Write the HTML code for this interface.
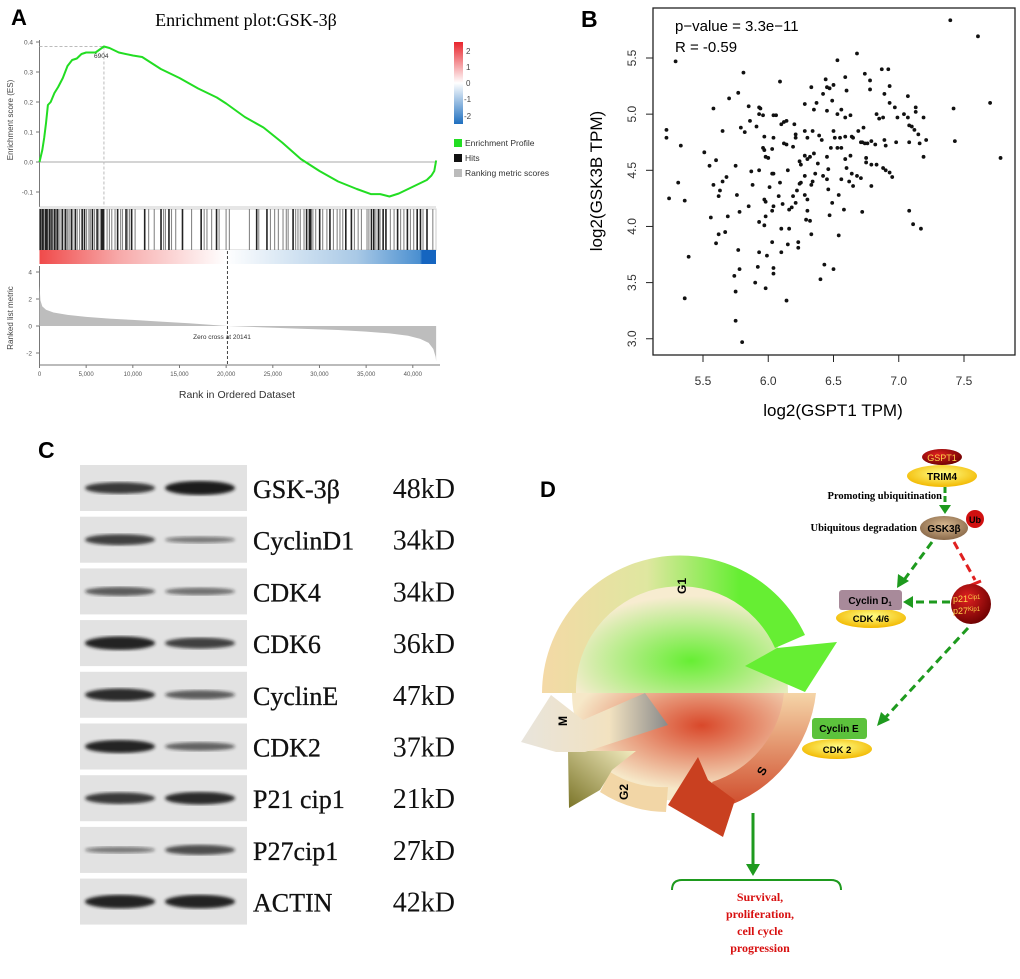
<!DOCTYPE html>
<html><head><meta charset="utf-8">
<style>
html,body{margin:0;padding:0;background:#fff;}
svg{display:block;}
</style></head>
<body>
<svg width="1020" height="979" viewBox="0 0 1020 979" xmlns="http://www.w3.org/2000/svg" font-family="Liberation Sans, sans-serif">
<defs>
  <linearGradient id="rankbar" x1="0" x2="1" y1="0" y2="0">
    <stop offset="0" stop-color="#f04a4a"/><stop offset="0.2" stop-color="#f7a9a9"/><stop offset="0.47" stop-color="#ffffff"/><stop offset="0.8" stop-color="#a9c9e6"/><stop offset="0.96" stop-color="#4a8fd0"/><stop offset="0.965" stop-color="#1565c0"/><stop offset="1" stop-color="#1565c0"/>
  </linearGradient>
  <linearGradient id="legbar" x1="0" x2="0" y1="0" y2="1">
    <stop offset="0" stop-color="#e8242c"/><stop offset="0.5" stop-color="#ffffff"/><stop offset="1" stop-color="#1f6fbf"/>
  </linearGradient>
  <filter id="blur"><feGaussianBlur stdDeviation="1.6"/></filter>
  <radialGradient id="g1in" cx="0.55" cy="0.7" r="0.6"><stop offset="0" stop-color="#66ee33"/><stop offset="1" stop-color="#f7ecd0"/></radialGradient>
  <linearGradient id="g1arc" x1="0" x2="1" y1="0" y2="0"><stop offset="0" stop-color="#f4d9a6"/><stop offset="0.4" stop-color="#dfe7a0"/><stop offset="0.75" stop-color="#66ee33"/><stop offset="1" stop-color="#66ee33"/></linearGradient>
  <radialGradient id="sin" cx="0.6" cy="0.3" r="0.6"><stop offset="0" stop-color="#d9482a"/><stop offset="1" stop-color="#f6e8c8"/></radialGradient>
  <linearGradient id="sarc" x1="0" x2="0" y1="0" y2="1"><stop offset="0" stop-color="#f5d5a8"/><stop offset="1" stop-color="#cf4a2a"/></linearGradient>
  <linearGradient id="g2g" x1="0" x2="1" y1="1" y2="0"><stop offset="0" stop-color="#7a7428"/><stop offset="1" stop-color="#f3ecc0"/></linearGradient>
  <linearGradient id="mg" x1="0" x2="1" y1="0" y2="0"><stop offset="0" stop-color="#e8e4dc"/><stop offset="0.6" stop-color="#f2e2c0"/><stop offset="1" stop-color="#8a8a8a"/></linearGradient>
  <radialGradient id="redball" cx="0.4" cy="0.35" r="0.7"><stop offset="0" stop-color="#e02020"/><stop offset="1" stop-color="#6a0000"/></radialGradient>
  <radialGradient id="yell" cx="0.5" cy="0.4" r="0.6"><stop offset="0" stop-color="#ffff88"/><stop offset="1" stop-color="#f2b800"/></radialGradient>
  <radialGradient id="tanball" cx="0.5" cy="0.4" r="0.6"><stop offset="0" stop-color="#d8b890"/><stop offset="1" stop-color="#8a6a4a"/></radialGradient>
</defs>

<!-- ================= PANEL A ================= -->
<g id="panelA">
  <text x="11" y="25" font-size="22" font-weight="bold">A</text>
  <text x="246" y="26" font-size="18" text-anchor="middle" font-family="Liberation Serif, serif">Enrichment plot:GSK-3β</text>
  <g id="aAxes"></g>
  <g id="aHits"></g>
  <rect x="39.5" y="250" width="396.5" height="14" fill="url(#rankbar)"/>
  <g id="aMetric"></g>
  <g id="aCurve"></g>
  <text x="13" y="120" font-size="8" fill="#444" text-anchor="middle" transform="rotate(-90 13 120)">Enrichment score (ES)</text>
  <text x="13" y="318" font-size="8" fill="#444" text-anchor="middle" transform="rotate(-90 13 318)">Ranked list metric</text>
  <text x="237" y="398" font-size="10.5" fill="#333" text-anchor="middle">Rank in Ordered Dataset</text>
  <text x="222" y="339" font-size="6.5" fill="#333" text-anchor="middle">Zero cross at 20141</text>
  <text x="94" y="58" font-size="6.5" fill="#333">6904</text>
  <rect x="454" y="42" width="9" height="82" fill="url(#legbar)"/>
  <g font-size="8" fill="#444">
    <text x="466" y="54">2</text><text x="466" y="70">1</text><text x="466" y="86">0</text><text x="464" y="102">-1</text><text x="464" y="119">-2</text>
  </g>
  <rect x="454" y="139" width="8" height="8" fill="#22dd22"/>
  <text x="465" y="146" font-size="8.5" fill="#333">Enrichment Profile</text>
  <rect x="454" y="154" width="8" height="8" fill="#111"/>
  <text x="465" y="161" font-size="8.5" fill="#333">Hits</text>
  <rect x="454" y="169" width="8" height="8" fill="#bbb"/>
  <text x="465" y="176" font-size="8.5" fill="#333">Ranking metric scores</text>
</g>

<!-- ================= PANEL B ================= -->
<g id="panelB">
  <text x="581" y="27" font-size="23" font-weight="bold">B</text>
  <rect x="653" y="8" width="362" height="347" fill="none" stroke="#222" stroke-width="1.3"/>
  <text x="675" y="31" font-size="15">p−value = 3.3e−11</text>
  <text x="675" y="52" font-size="15">R =  -0.59</text>
  <g id="bAxes"></g>
  <g id="bPoints"></g>
  <text x="602" y="181" font-size="17" text-anchor="middle" transform="rotate(-90 602 181)">log2(GSK3B TPM)</text>
  <text x="833" y="416" font-size="17" text-anchor="middle">log2(GSPT1 TPM)</text>
</g>

<!-- ================= PANEL C ================= -->
<g id="panelC">
  <text x="38" y="458" font-size="23" font-weight="bold">C</text>
  <g id="blots"></g>
</g>

<!-- ================= PANEL D ================= -->
<g id="panelD">
  <text x="540" y="497" font-size="22" font-weight="bold">D</text>
  <g>
    <path d="M572 693 A108 108 0 0 1 788 693 Z" fill="url(#g1in)"/>
    <path d="M572 693 A108 108 0 0 0 788 693 Z" fill="url(#sin)"/>
    <path d="M542 693 A138 138 0 0 1 805 635 L775 648 A104 104 0 0 0 576 693 Z" fill="url(#g1arc)"/>
    <polygon points="837,642 805,692 745,666 777,648" fill="#66ee33"/>
    <text x="682" y="590" font-size="12" font-weight="bold" transform="rotate(-90 682 586)" text-anchor="middle">G1</text>
    <path d="M816 693 A136 136 0 0 1 722 808 L712 782 A104 104 0 0 0 784 693 Z" fill="url(#sarc)"/>
    <polygon points="723,837 668,805 698,757 708,780 735,800" fill="#c94020"/>
    <text x="762" y="775" font-size="12" font-weight="bold" transform="rotate(-60 762 771)" text-anchor="middle">S</text>
    <path d="M666 812 A125 125 0 0 1 600 792 L610 772 A100 100 0 0 0 668 787 Z" fill="#f2d6a6"/>
    <polygon points="569,808 568,751 636,751 612,770 605,782 600,790" fill="url(#g2g)"/>
    <text x="624" y="796" font-size="12" font-weight="bold" transform="rotate(-90 624 792)" text-anchor="middle">G2</text>
    <polygon points="521,742 551,695 583,720 645,693 668,725 585,752 556,752" fill="url(#mg)"/>
    <text x="563" y="725" font-size="12" font-weight="bold" transform="rotate(-90 563 721)" text-anchor="middle">M</text>
  </g>
  <ellipse cx="942" cy="457" rx="20" ry="8" fill="url(#redball)"/>
  <text x="942" y="461" font-size="9" fill="#ffd24a" text-anchor="middle">GSPT1</text>
  <ellipse cx="942" cy="476" rx="35" ry="11" fill="url(#yell)"/>
  <text x="942" y="480" font-size="10" font-weight="bold" text-anchor="middle">TRIM4</text>
  <text x="942" y="499" font-size="10.5" font-weight="bold" text-anchor="end" font-family="Liberation Serif, serif">Promoting ubiquitination</text>
  <line x1="945" y1="487" x2="945" y2="505" stroke="#1e9a1e" stroke-width="3" stroke-dasharray="6 3"/>
  <polygon points="939,505 951,505 945,514" fill="#1e9a1e"/>
  <ellipse cx="944" cy="528" rx="24" ry="12" fill="url(#tanball)"/>
  <text x="944" y="532" font-size="10" font-weight="bold" text-anchor="middle">GSK3β</text>
  <circle cx="975" cy="519" r="9" fill="#d01010"/>
  <text x="975" y="523" font-size="9" font-weight="bold" text-anchor="middle">Ub</text>
  <text x="917" y="531" font-size="10.5" font-weight="bold" text-anchor="end" font-family="Liberation Serif, serif">Ubiquitous degradation</text>
  <line x1="932" y1="542" x2="904" y2="580" stroke="#1e9a1e" stroke-width="3" stroke-dasharray="8 5"/>
  <polygon points="897,588 898,574 909,581" fill="#1e9a1e"/>
  <line x1="954" y1="542" x2="975" y2="580" stroke="#e02020" stroke-width="3" stroke-dasharray="8 5"/>
  <line x1="969" y1="586" x2="981" y2="581" stroke="#e02020" stroke-width="3"/>
  <circle cx="971" cy="604" r="20" fill="url(#redball)"/>
  <text x="953" y="602" font-size="9" fill="#ffd24a">p21<tspan font-size="6" dy="-3">Cip1</tspan></text>
  <text x="953" y="614" font-size="9" fill="#ffd24a">p27<tspan font-size="6" dy="-3">Kip1</tspan></text>
  <line x1="950" y1="602" x2="912" y2="602" stroke="#1e9a1e" stroke-width="3" stroke-dasharray="8 5"/>
  <polygon points="903,602 913,596 913,608" fill="#1e9a1e"/>
  <ellipse cx="871" cy="618" rx="35" ry="10" fill="url(#yell)"/>
  <rect x="839" y="590" width="63" height="20" rx="3" fill="#a88a9a"/>
  <text x="870" y="604" font-size="10" font-weight="bold" text-anchor="middle">Cyclin D<tspan font-size="6" dy="2">1</tspan></text>
  <text x="871" y="622" font-size="9.5" font-weight="bold" text-anchor="middle">CDK 4/6</text>
  <line x1="968" y1="628" x2="885" y2="718" stroke="#1e9a1e" stroke-width="3" stroke-dasharray="8 5"/>
  <polygon points="877,726 881,712 890,720" fill="#1e9a1e"/>
  <ellipse cx="837" cy="749" rx="35" ry="10" fill="url(#yell)"/>
  <rect x="812" y="718" width="55" height="21" rx="3" fill="#5cc23c"/>
  <text x="839" y="732" font-size="10" font-weight="bold" text-anchor="middle">Cyclin E</text>
  <text x="837" y="753" font-size="9.5" font-weight="bold" text-anchor="middle">CDK 2</text>
  <line x1="753" y1="813" x2="753" y2="866" stroke="#1e9a1e" stroke-width="3"/>
  <polygon points="746,864 760,864 753,876" fill="#1e9a1e"/>
  <path d="M672 890 Q672 880 682 880 L831 880 Q841 880 841 890" fill="none" stroke="#1e9a1e" stroke-width="2"/>
  <g font-family="Liberation Serif, serif" font-weight="bold" font-size="12" fill="#d81010" text-anchor="middle">
    <text x="760" y="901">Survival,</text>
    <text x="760" y="918">proliferation,</text>
    <text x="760" y="935">cell cycle</text>
    <text x="760" y="952">progression</text>
  </g>
</g>

<script>
// ---------- Panel A data ----------
const esRanks = [0,150,300,500,700,900,1200,1600,2000,2500,3000,3500,4000,4500,5000,6000,6904,7500,8500,10000,11000,12000,13000,15000,17000,19000,20000,22000,24000,26000,28000,30000,32000,34000,35500,36500,37500,38500,39500,40500,41500,42000,42300,42500];
const esValues = [0,0.02,0.04,0.08,0.13,0.19,0.2,0.23,0.25,0.28,0.32,0.34,0.345,0.36,0.365,0.365,0.385,0.38,0.365,0.355,0.35,0.33,0.31,0.28,0.245,0.215,0.195,0.15,0.115,0.065,0.01,-0.03,-0.065,-0.09,-0.107,-0.107,-0.115,-0.105,-0.09,-0.075,-0.06,-0.045,-0.03,0.005];
const metricRanks = [0,100,300,700,1500,3000,5000,7500,10000,13000,16000,20141,24000,28000,32000,35000,37500,39500,40800,41700,42200,42450,42500];
const metricValues = [3.0,1.9,1.45,1.2,1.0,0.82,0.68,0.55,0.45,0.32,0.2,0,-0.1,-0.2,-0.3,-0.42,-0.55,-0.72,-0.95,-1.25,-1.7,-2.3,-2.6];
const hitRanks = [60,180,260,330,420,520,650,800,950,1080,1230,1330,1450,1600,1780,1900,2050,2200,2420,2650,2780,3020,3180,3400,3580,3820,4050,4300,4550,4800,5050,5300,5450,5650,5900,6150,6350,6600,6750,6850,7250,7500,7750,8100,8350,8700,8900,9250,9450,9650,9850,10250,11250,11700,12300,13000,13300,13500,13850,14150,14600,15300,16300,17300,17650,17950,18450,18950,19250,20000,20350,22500,23250,23500,24350,24750,25200,25600,26100,26450,26650,27150,27450,27700,27950,28350,28600,28900,29050,29300,29600,30000,30350,30800,31100,31500,31900,32200,32500,32800,33400,33750,34150,34500,35100,35300,35550,35800,36050,36300,36500,36800,37100,37600,38000,38350,38700,39050,39400,39750,40100,40450,40800,41100,41500,42150];
const hitShades = [1,1,0,1,1,0,1,1,0,1,0,1,0,1,0,1,0,0,1,0,1,0,0,1,0,1,0,0,1,1,0,0,0,1,0,1,0,1,1,1,0,0,0,0,1,0,0,1,0,0,1,0,1,0,0,1,0,0,1,0,0,1,0,1,0,0,0,1,0,0,0,0,1,0,1,0,0,0,0,0,0,1,0,0,0,0,1,1,1,0,0,1,0,0,1,0,0,0,0,1,1,0,0,0,0,0,1,1,0,1,0,1,1,0,0,1,0,0,1,0,0,1,1,0,1,0,1];
const esTicks = [0.4,0.3,0.2,0.1,0.0,-0.1];
const esTickLabels = ["0.4","0.3","0.2","0.1","0.0","-0.1"];
const metricTicks = [4,2,0,-2];
const rankTicks = [0,5000,10000,15000,20000,25000,30000,35000,40000];
const rankTickLabels = ["0","5,000","10,000","15,000","20,000","25,000","30,000","35,000","40,000"];
const peakRank = 6904, peakES = 0.385, zeroCross = 20141;

// ---------- Panel B data ----------
const gsptValues = [7.395,7.607,5.29,6.68,6.53,5.81,6.09,6.74,6.87,6.92,6.78,6.44,6.45,6.47,6.33,6.50,6.59,6.60,6.78,6.93,6.89,5.77,5.70,7.07,6.42,7.70,6.28,6.37,6.49,5.85,5.93,5.94,5.58,7.42,7.13,7.13,6.35,6.45,6.56,6.53,6.93,6.97,5.93,5.96,6.04,6.06,6.59,6.63,6.83,6.85,6.88,6.99,7.04,7.07,7.19,5.22,5.22,5.33,5.65,5.79,5.82,5.86,5.91,5.97,6.10,6.12,6.14,6.20,6.21,6.21,6.28,6.34,6.39,6.41,6.30,6.50,6.51,6.55,6.59,6.64,6.65,6.69,6.73,6.71,6.72,6.74,6.76,6.79,6.82,6.89,6.90,6.98,7.08,7.08,7.10,7.12,7.15,7.16,7.21,7.43,7.78,7.19,5.51,5.55,5.60,5.75,5.87,5.93,5.96,5.97,5.98,6.00,6.03,6.04,6.12,6.14,6.19,6.24,6.25,6.28,6.30,6.32,6.35,6.38,6.45,6.48,6.53,6.56,6.59,6.60,6.63,6.75,6.75,6.79,6.83,6.88,6.90,6.93,6.95,5.76,5.58,5.63,5.62,5.65,5.68,5.31,5.24,5.36,5.88,5.97,5.98,6.01,6.03,6.04,6.09,6.08,6.04,6.11,6.15,6.16,6.18,6.19,6.21,6.22,6.24,6.25,6.28,6.28,6.30,6.30,6.33,6.34,6.36,6.42,6.45,6.46,6.46,6.49,6.54,6.56,6.58,6.62,6.64,6.65,6.68,6.71,6.72,6.79,7.08,7.11,7.17,5.56,5.69,5.67,5.60,5.62,5.78,5.85,5.93,5.97,5.98,6.03,6.10,6.16,6.03,6.10,6.15,6.23,6.23,6.29,6.32,6.33,6.47,6.54,5.39,5.77,5.93,5.99,5.78,5.74,5.92,6.04,6.04,5.90,5.98,5.75,5.36,6.14,6.40,6.43,6.50,5.75,5.80];
const gsk3bValues = [5.836,5.693,5.47,5.54,5.48,5.37,5.29,5.36,5.40,5.40,5.30,5.31,5.24,5.23,5.24,5.26,5.33,5.21,5.22,5.25,5.18,5.19,5.14,5.16,5.18,5.10,5.09,5.10,5.12,5.07,5.06,5.05,5.05,5.05,5.06,5.02,5.04,5.03,5.04,5.00,5.10,5.06,5.00,4.99,4.99,4.99,4.97,4.99,5.00,4.96,4.97,4.97,5.00,4.97,4.97,4.86,4.79,4.72,4.85,4.88,4.84,4.94,4.89,4.80,4.91,4.93,4.94,4.91,4.82,4.79,4.85,4.85,4.81,4.77,4.79,4.85,4.79,4.79,4.80,4.80,4.79,4.85,4.88,4.75,4.75,4.74,4.74,4.76,4.73,4.77,4.72,4.75,4.75,4.90,4.89,4.86,4.82,4.74,4.77,4.76,4.61,4.62,4.66,4.54,4.59,4.54,4.49,4.50,4.70,4.68,4.62,4.61,4.69,4.79,4.74,4.73,4.71,4.58,4.55,4.63,4.60,4.62,4.65,4.56,4.62,4.70,4.70,4.70,4.60,4.52,4.63,4.61,4.57,4.55,4.55,4.52,4.50,4.48,4.44,4.28,4.37,4.32,4.27,4.40,4.44,4.39,4.25,4.23,4.37,4.24,4.22,4.35,4.47,4.47,4.39,4.27,4.18,4.20,4.50,4.15,4.17,4.27,4.21,4.32,4.38,4.39,4.45,4.28,4.24,4.14,4.37,4.40,4.47,4.45,4.42,4.51,4.33,4.21,4.28,4.42,4.15,4.40,4.47,4.36,4.45,4.43,4.13,4.36,4.14,4.02,3.98,4.08,4.09,3.95,3.85,3.93,4.13,4.18,4.04,4.01,4.09,4.14,3.98,3.98,3.86,3.77,3.84,3.86,3.81,4.06,4.05,3.93,4.10,3.92,3.73,3.79,3.77,3.74,3.62,3.56,3.64,3.63,3.58,3.50,3.45,3.42,3.36,3.34,3.53,3.66,3.62,3.16,2.97];
const bxTicks = [5.5,6.0,6.5,7.0,7.5];
const byTicks = [3.0,3.5,4.0,4.5,5.0,5.5];

// ---------- Panel C data ----------
const proteins = ["GSK-3β","CyclinD1","CDK4","CDK6","CyclinE","CDK2","P21 cip1","P27cip1","ACTIN"];
const weights = ["48kD","34kD","34kD","36kD","47kD","37kD","21kD","27kD","42kD"];
const lane1Intensity = [0.75,0.7,0.5,0.95,0.85,0.9,0.75,0.25,0.95];
const lane2Intensity = [1.0,0.25,0.35,0.7,0.5,0.45,0.85,0.6,0.95];

const NS = "http://www.w3.org/2000/svg";
function mk(tag, attrs, parent){const e=document.createElementNS(NS,tag);for(const k in attrs)e.setAttribute(k,attrs[k]);parent.appendChild(e);return e;}

const xA = r => 39.5 + r*373.3/40000;
const yES = v => 162 - v*300;
const yM = v => 326 - v*13.5;
const aAxes = document.getElementById('aAxes');
let e;
e = mk('line',{x1:39.5,y1:40,x2:39.5,y2:207,stroke:'#777','stroke-width':1},aAxes);
 
e = mk('line',{x1:39.5,y1:yES(0),x2:436,y2:yES(0),stroke:'#aaa','stroke-width':1},aAxes);
 
e = mk('line',{x1:39.5,y1:207,x2:436,y2:207,stroke:'#ccc','stroke-width':1},aAxes);
 
esTicks.forEach((t,i)=>{
  mk('line',{x1:36,y1:yES(t),x2:39.5,y2:yES(t),stroke:'#777'},aAxes);
  e = mk('text',{x:33,y:yES(t)+2.5,'font-size':6.5,fill:'#555','text-anchor':'end'},aAxes);
  e.textContent = esTickLabels[i];
   
});
e = mk('line',{x1:39.5,y1:yES(peakES),x2:xA(peakRank),y2:yES(peakES),stroke:'#bbb','stroke-dasharray':'3 2'},aAxes);
 
e = mk('line',{x1:xA(peakRank),y1:yES(peakES),x2:xA(peakRank),y2:207,stroke:'#bbb','stroke-dasharray':'3 2'},aAxes);
 
e = mk('line',{x1:39.5,y1:266,x2:39.5,y2:365,stroke:'#777'},aAxes);
 
metricTicks.forEach(t=>{
  mk('line',{x1:36,y1:yM(t),x2:39.5,y2:yM(t),stroke:'#777'},aAxes);
  e = mk('text',{x:32,y:yM(t)+2.5,'font-size':6.5,fill:'#555','text-anchor':'end'},aAxes);
  e.textContent = String(t);
   
});
e = mk('line',{x1:39.5,y1:365,x2:440,y2:365,stroke:'#777'},aAxes);
 
rankTicks.forEach((t,i)=>{
  mk('line',{x1:xA(t),y1:365,x2:xA(t),y2:368,stroke:'#777'},aAxes);
  e = mk('text',{x:xA(t),y:376,'font-size':6,fill:'#555','text-anchor':'middle'},aAxes);
  e.textContent = rankTickLabels[i];
   
});
const aHits = document.getElementById('aHits');
e = mk('rect',{x:39.5,y:209,width:396.5,height:41,fill:'none',stroke:'#ccc'},aHits);
 
hitRanks.forEach((r,i)=>{
  e = mk('rect',{x:xA(r)-0.6,y:209,width:hitShades[i]?1.6:1.1,height:41,fill:hitShades[i]?'#222':'#888'},aHits);
   
});
const aMetric = document.getElementById('aMetric');
let pts = metricRanks.map((r,i)=>xA(r)+','+yM(metricValues[i])).join(' ');
pts = xA(0)+','+yM(0)+' '+pts+' '+xA(42500)+','+yM(0);
e = mk('polygon',{points:pts,fill:'#bdbdbd'},aMetric);
 
e = mk('line',{x1:xA(zeroCross),y1:251,x2:xA(zeroCross),y2:365,stroke:'#444','stroke-dasharray':'3 2'},aMetric);
 
const aCurve = document.getElementById('aCurve');
e = mk('polyline',{points:esRanks.map((r,i)=>xA(r)+','+yES(esValues[i])).join(' '),fill:'none',stroke:'#22dd22','stroke-width':2,'stroke-linejoin':'round'},aCurve);
 

const xB = v => 703 + (v-5.5)*130.5;
const yB = v => 58 + (5.5-v)*112.3;
const bAxes = document.getElementById('bAxes');
bxTicks.forEach(t=>{
  mk('line',{x1:xB(t),y1:355,x2:xB(t),y2:362,stroke:'#222'},bAxes);
  e = mk('text',{x:xB(t),y:385,'font-size':12,fill:'#333','text-anchor':'middle'},bAxes);
  e.textContent = t.toFixed(1);
   
});
byTicks.forEach(t=>{
  mk('line',{x1:646,y1:yB(t),x2:653,y2:yB(t),stroke:'#222'},bAxes);
  e = mk('text',{x:636,y:yB(t),'font-size':12,fill:'#333','text-anchor':'middle',transform:`rotate(-90 636 ${yB(t)})`},bAxes);
  e.textContent = t.toFixed(1);
   
});
const bPoints = document.getElementById('bPoints');
gsptValues.forEach((v,i)=>{
  e = mk('circle',{cx:xB(v),cy:yB(gsk3bValues[i]),r:1.9,fill:'#111'},bPoints);
   
});

const blots = document.getElementById('blots');
proteins.forEach((p,i)=>{
  const top = 465 + i*51.7;
  e = mk('rect',{x:80,y:top,width:167,height:46,fill:'#e2e2e2'},blots);
   
  const cy = top+23;
  [[120,lane1Intensity[i]],[200,lane2Intensity[i]]].forEach(([cx,v])=>{
    e = mk('ellipse',{cx:cx,cy:cy,rx:35,ry:2+v*5,fill:'#1a1a1a','fill-opacity':0.35+0.65*v,filter:'url(#blur)'},blots);
     
  });
  e = mk('text',{x:253,y:cy+10,'font-size':26,'font-family':'Liberation Serif, serif',fill:'#111',stroke:'#111','stroke-width':0.3},blots);
  e.textContent = p;
   
  e = mk('text',{x:455,y:cy+10,'font-size':28,'font-family':'Liberation Serif, serif',fill:'#111','text-anchor':'end'},blots);
  e.textContent = weights[i];
   
});
</script>
</svg>
</body></html>
